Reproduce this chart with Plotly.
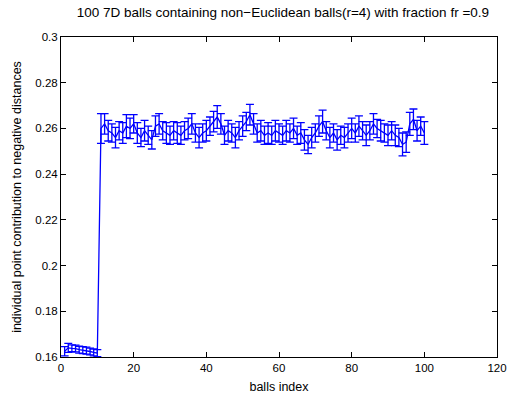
import plotly.graph_objects as go

# Ball index 1..100
balls = list(range(1, 101))

# Mean individual point contribution to negative distances per ball
contrib = [
    0.1625, 0.1640, 0.1638, 0.1637, 0.1632, 0.1630, 0.1628, 0.1624, 0.1620, 0.1617,
    0.2600, 0.2620, 0.2590, 0.2580, 0.2560, 0.2590, 0.2580, 0.2610, 0.2600, 0.2620,
    0.2580, 0.2560, 0.2590, 0.2570, 0.2550, 0.2610, 0.2620, 0.2590, 0.2580, 0.2570,
    0.2590, 0.2580, 0.2570, 0.2590, 0.2600, 0.2620, 0.2580, 0.2560, 0.2580, 0.2590,
    0.2610, 0.2630, 0.2650, 0.2620, 0.2570, 0.2590, 0.2580, 0.2560, 0.2590, 0.2610,
    0.2630, 0.2660, 0.2620, 0.2580, 0.2590, 0.2570, 0.2580, 0.2570, 0.2590, 0.2580,
    0.2570, 0.2590, 0.2580, 0.2600, 0.2570, 0.2580, 0.2550, 0.2530, 0.2560, 0.2580,
    0.2610, 0.2630, 0.2590, 0.2560, 0.2580, 0.2550, 0.2570, 0.2560, 0.2580, 0.2600,
    0.2580, 0.2610, 0.2590, 0.2570, 0.2590, 0.2620, 0.2600, 0.2590, 0.2580, 0.2570,
    0.2590, 0.2570, 0.2560, 0.2530, 0.2540, 0.2620, 0.2640, 0.2590, 0.2610, 0.2580,
]

# Standard error of each mean
err = [
    0.0020, 0.0020, 0.0015, 0.0015, 0.0015, 0.0015, 0.0015, 0.0015, 0.0015, 0.0015,
    0.0065, 0.0045, 0.0045, 0.0040, 0.0045, 0.0040, 0.0045, 0.0050, 0.0045, 0.0040,
    0.0045, 0.0040, 0.0045, 0.0040, 0.0040, 0.0045, 0.0045, 0.0040, 0.0045, 0.0040,
    0.0040, 0.0045, 0.0040, 0.0040, 0.0045, 0.0045, 0.0040, 0.0045, 0.0040, 0.0045,
    0.0040, 0.0045, 0.0050, 0.0045, 0.0040, 0.0045, 0.0040, 0.0045, 0.0040, 0.0045,
    0.0040, 0.0045, 0.0045, 0.0040, 0.0045, 0.0040, 0.0045, 0.0040, 0.0045, 0.0040,
    0.0040, 0.0045, 0.0040, 0.0045, 0.0040, 0.0045, 0.0045, 0.0040, 0.0045, 0.0040,
    0.0045, 0.0050, 0.0040, 0.0045, 0.0040, 0.0045, 0.0040, 0.0045, 0.0040, 0.0045,
    0.0040, 0.0045, 0.0040, 0.0045, 0.0040, 0.0045, 0.0040, 0.0045, 0.0040, 0.0045,
    0.0040, 0.0045, 0.0040, 0.0050, 0.0045, 0.0050, 0.0045, 0.0045, 0.0040, 0.0050,
]

x_ticks = [0, 20, 40, 60, 80, 100, 120]
y_ticks = [0.16, 0.18, 0.2, 0.22, 0.24, 0.26, 0.28, 0.3]
y_tick_text = ["0.16", "0.18", "0.2", "0.22", "0.24", "0.26", "0.28", "0.3"]

blue = "rgb(0,0,255)"

fig = go.Figure(
    go.Scatter(
        x=balls,
        y=contrib,
        mode="lines",
        line=dict(color=blue, width=1.3),
        error_y=dict(type="data", array=err, visible=True,
                     color=blue, thickness=1.3, width=4),
        showlegend=False,
    )
)

family = "Liberation Sans, Arial, sans-serif"
tick_font = dict(family=family, size=11.5, color="black")
label_font = dict(family=family, size=12.5, color="black")

axis_common = dict(
    showline=True, linecolor="black", linewidth=1, mirror="ticks",
    ticks="inside", ticklen=5, tickcolor="black", showgrid=False,
    zeroline=False, tickfont=tick_font,
)

fig.update_layout(
    width=519, height=414,
    margin=dict(l=61, r=18, t=37, b=57),
    paper_bgcolor="white", plot_bgcolor="white",
    font=tick_font,
    title=dict(
        text="100 7D balls containing non\u2212Euclidean balls(r=4) with fraction fr =0.9",
        x=0.545, xanchor="center", y=0.97, yanchor="middle",
        font=dict(family=family, size=13.5, color="black"),
    ),
    xaxis=dict(range=[0, 120], tickvals=x_ticks,
               title=dict(text="balls index", standoff=9, font=label_font), **axis_common),
    yaxis=dict(range=[0.16, 0.3], tickvals=y_ticks, ticktext=y_tick_text,
               title=dict(text="individual point contribution to negative distances",
                          standoff=10, font=label_font), **axis_common),
)

fig.write_html("out.html")
